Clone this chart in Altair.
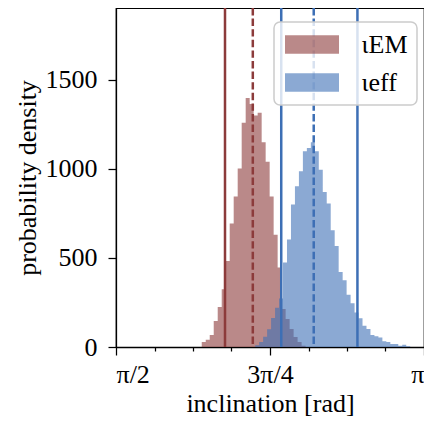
import numpy as np
import pandas as pd
import altair as alt

PI = np.pi

# histogram bins (left edge of first bin, bin width) and heights
red_start = 2.0081
red_width = 0.02037
red_heights = [28, 41, 67, 146, 224, 325, 483, 694, 845, 1002,
               1259, 1399, 1365, 1300, 1315, 1150, 1040, 845, 630, 446,
               213, 157, 101, 56, 28, 7]

blue_start = 2.2807
blue_width = 0.02027
blue_heights = [10, 28, 58, 100, 163, 220, 272, 474, 604, 800,
                903, 987, 1099, 1117, 1150, 1099, 996, 870, 806, 656,
                567, 421, 375, 293, 246, 194, 161, 119, 101, 67,
                60, 54, 32, 28, 17, 17, 7, 13, 4]

series_names = ["ιEM", "ιeff"]
line_colors = ["#8c3b3b", "#3d6fb5"]

# vertical reference lines (rad)
red_lines = [2.1267, 2.2685]
red_dash = [False, True]
blue_lines = [2.4135, 2.5792, 2.8021]
blue_dash = [False, True, False]

x_major_inner = [PI / 2, 3 * PI / 4]
x_major_end = [PI]
x_minor = [PI / 2 + k * PI / 16 for k in range(1, 8) if k != 4]
y_ticks = [0, 500, 1000, 1500]


def step_frame(start, width, heights, name):
    # step-after outline: one point per bin left edge, plus the closing right edge
    n = len(heights)
    xs = [start + i * width for i in range(n + 1)]
    hs = list(heights) + [heights[-1]]
    return pd.DataFrame({"x": xs, "h": hs, "series": name})


df_red = step_frame(red_start, red_width, red_heights, series_names[0])
df_blue = step_frame(blue_start, blue_width, blue_heights, series_names[1])
df_lines = pd.DataFrame({
    "x": red_lines + blue_lines,
    "series": [series_names[0]] * len(red_lines) + [series_names[1]] * len(blue_lines),
    "dash": red_dash + blue_dash,
})

xscale = alt.Scale(domain=[PI / 2, PI], nice=False, zero=False)
yscale = alt.Scale(domain=[0, 1904], nice=False)
cscale = alt.Scale(domain=series_names, range=line_colors)

main_x_axis = alt.Axis(
    values=x_major_inner,
    labelExpr="datum.value < 2 ? 'π/2' : '3π/4'",
    ticks=True, tickSize=8, title="inclination [rad]", orient="bottom", grid=False,
    labelPadding=6, titlePadding=3,
)
end_x_axis = alt.Axis(
    values=x_major_end, labelExpr="'π'", labelAlign="right",
    ticks=True, tickSize=8, title=None, domain=False, orient="bottom", grid=False,
    labelPadding=6,
)
minor_x_axis = alt.Axis(
    values=x_minor, ticks=True, tickSize=4, labels=False, title=None, domain=False,
    orient="bottom", grid=False,
)
y_axis = alt.Axis(values=y_ticks, format="d", ticks=True, tickSize=8,
                  title="probability density", grid=False,
                  labelPadding=11, titlePadding=5)

color_enc = alt.Color("series:N", scale=cscale, title=None, sort=series_names)

area_red = alt.Chart(df_red).mark_area(opacity=0.6, interpolate="step-after").encode(
    x=alt.X("x:Q", scale=xscale, axis=main_x_axis),
    y=alt.Y("h:Q", scale=yscale, axis=y_axis),
    color=color_enc,
)

area_blue = alt.Chart(df_blue).mark_area(opacity=0.6, interpolate="step-after").encode(
    x=alt.X("x:Q", scale=xscale, axis=minor_x_axis),
    y=alt.Y("h:Q", scale=yscale, axis=y_axis),
    color=color_enc,
)

solid_rules = alt.Chart(df_lines).transform_filter("!datum.dash").mark_rule(strokeWidth=2.5).encode(
    x=alt.X("x:Q", scale=xscale, axis=end_x_axis),
    color=color_enc,
)
dash_rules = alt.Chart(df_lines).transform_filter("datum.dash").mark_rule(
    strokeWidth=2.5, strokeDash=[7.4, 3.2]).encode(
    x=alt.X("x:Q", scale=xscale, axis=None),
    color=color_enc,
)

chart = alt.layer(area_red, area_blue, solid_rules, dash_rules).resolve_axis(
    x="independent"
).properties(
    width=308, height=339,
    autosize=alt.AutoSizeParams(type="none"),
    padding={"left": 108, "top": 0, "right": 0, "bottom": 73},
).configure(
    font="Liberation Serif"
).configure_view(
    stroke="black", strokeWidth=1.25
).configure_axis(
    labelFont="Liberation Serif", titleFont="Liberation Serif",
    labelFontSize=26, titleFontSize=26, titleFontWeight="normal",
    labelColor="black", titleColor="black",
    domainColor="black", tickColor="black", domainWidth=1.25, tickWidth=1.25,
).configure_legend(
    orient="none", legendX=158, legendY=14,
    padding=9, rowPadding=11,
    cornerRadius=6, strokeColor="#cccccc", strokeWidth=1.5,
    fillColor="rgba(255,255,255,0.8)",
    symbolType="M-2,-0.68L2,-0.68L2,0.68L-2,0.68Z",
    symbolSize=729, symbolStrokeWidth=0, symbolOpacity=0.6,
    symbolOffset=15.5,
    labelFont="Liberation Serif", labelFontSize=26, labelOffset=36,
    labelColor="black",
)

chart.save("out.html", embed_options={"renderer": "svg", "actions": False})
